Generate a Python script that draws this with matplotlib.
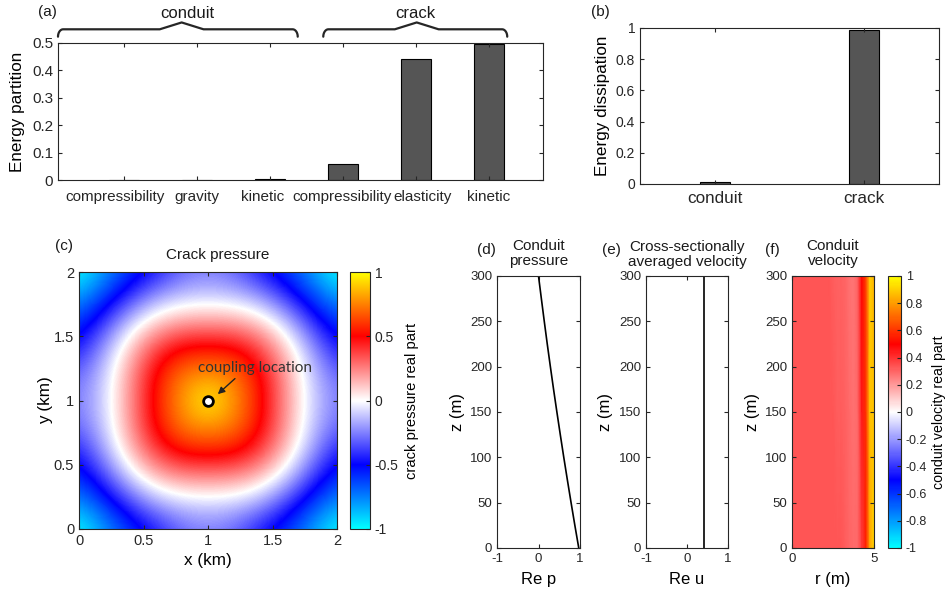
import numpy as np
import matplotlib
matplotlib.use("Agg")
import matplotlib.pyplot as plt
from matplotlib.colors import LinearSegmentedColormap
from matplotlib import ticker
from matplotlib.transforms import ScaledTranslation

plt.rcParams['font.family'] = ['Liberation Sans', 'DejaVu Sans']
plt.rcParams['axes.unicode_minus'] = False
plt.rcParams['axes.edgecolor'] = '#262626'
plt.rcParams['axes.linewidth'] = 0.8
plt.rcParams['xtick.color'] = '#262626'
plt.rcParams['ytick.color'] = '#262626'
plt.rcParams['text.color'] = '#1a1a1a'

# (a) energy partition
part_labels = ['compressibility', 'gravity', 'kinetic', 'compressibility', 'elasticity', 'kinetic']
part_values = [0.0005, 0.0002, 0.004, 0.06, 0.44, 0.497]

# (b) energy dissipation
diss_labels = ['conduit', 'crack']
diss_values = [0.01, 0.99]

# (c) crack pressure, lower-left quadrant read on a 0.2 km grid (rows: y = 0..1, cols: x = 0..1)
crack_q = np.array([
    [-1.00, -0.80, -0.60, -0.45, -0.30, -0.25],
    [-0.80, -0.60, -0.37, -0.18, -0.10, -0.08],
    [-0.60, -0.37, -0.08, 0.12, 0.21, 0.22],
    [-0.45, -0.18, 0.12, 0.38, 0.53, 0.55],
    [-0.30, -0.10, 0.21, 0.53, 0.74, 0.80],
    [-0.25, -0.08, 0.22, 0.55, 0.80, 1.00],
])
couple_x, couple_y = 1.0, 1.0

# (d) conduit pressure
z_p = [0, 25, 50, 75, 100, 125, 150, 175, 200, 225, 250, 275, 300]
re_p = [0.97, 0.876, 0.785, 0.696, 0.609, 0.525, 0.443, 0.363, 0.286, 0.211, 0.139, 0.069, 0.0]

# (e) cross-sectionally averaged velocity
z_u = [0, 300]
re_u = [0.41, 0.41]

# (f) conduit velocity, radial profiles at three depths
r_nodes = [0, 0.25, 0.5, 0.75, 1, 1.25, 1.5, 1.75, 2, 2.25, 2.5, 2.75, 3,
           3.25, 3.5, 3.75, 4, 4.25, 4.5, 4.75, 5]
z_nodes = [0, 150, 300]
vel_bot = [0.33, 0.33, 0.33, 0.33, 0.33, 0.33, 0.33, 0.33, 0.33, 0.33, 0.33, 0.33, 0.33,
           0.32, 0.30, 0.29, 0.29, 0.38, 0.55, 0.82, 0.92]
vel_mid = [0.33, 0.33, 0.33, 0.33, 0.33, 0.33, 0.33, 0.33, 0.33, 0.33, 0.33, 0.32, 0.32,
           0.31, 0.29, 0.28, 0.29, 0.45, 0.58, 0.88, 0.88]
vel_top = [0.33, 0.33, 0.33, 0.33, 0.33, 0.33, 0.33, 0.33, 0.33, 0.33, 0.32, 0.31, 0.31,
           0.30, 0.28, 0.27, 0.31, 0.50, 0.62, 0.90, 0.85]

cmap = LinearSegmentedColormap.from_list(
    'cbwry', [(0, 1, 1), (0, 0, 1), (1, 1, 1), (1, 0, 0), (1, 1, 0)])

W, H = 949, 594
fig = plt.figure(figsize=(W / 100, H / 100), dpi=100)


def box(l, t, r, b):
    return [l / W, 1 - b / H, (r - l) / W, (b - t) / H]


def style(ax, size):
    ax.tick_params(direction='in', top=True, right=True, length=3, width=0.8, labelsize=size)


def shift_label(lbl, dx_px):
    lbl.set_transform(lbl.get_transform() + ScaledTranslation(dx_px / 100, 0, fig.dpi_scale_trans))


# ---- (a)
ax = fig.add_axes(box(58, 43, 543, 180))
xa = np.arange(1, len(part_values) + 1)
ax.bar(xa, part_values, width=0.4, color='#555555', edgecolor='black', linewidth=0.8)
ax.set_xlim(0.096, 6.74)
ax.set_ylim(0, 0.5)
ax.set_yticks([0, 0.1, 0.2, 0.3, 0.4, 0.5])
ax.yaxis.set_major_formatter(ticker.FormatStrFormatter('%g'))
ax.set_xticks(xa)
ax.set_xticklabels(part_labels)
style(ax, 11)
ax.tick_params(axis='x', pad=7)
xl = ax.get_xticklabels()
shift_label(xl[0], -9)
shift_label(xl[2], -7)
shift_label(xl[3], -1)
shift_label(xl[4], 7)
ax.set_ylabel('Energy partition', fontsize=12.3)
ax.yaxis.set_label_coords(-0.068, 0.5)

trans = ax.get_xaxis_transform()


def brace(x0, x1, xm):
    c, w = 0.07, 0.3
    y_end, y_base, y_tip = 1.046, 1.1, 1.15
    t = np.linspace(0, np.pi / 2, 12)
    lx = x0 + c - c * np.cos(t)
    ly = y_end + (y_base - y_end) * np.sin(t)
    rx = x1 - c + c * np.cos(t[::-1])
    ry = y_end + (y_base - y_end) * np.sin(t[::-1])
    xs = np.concatenate([lx, [xm - w, xm, xm + w], rx])
    ys = np.concatenate([ly, [y_base, y_tip, y_base], ry])
    ax.plot(xs, ys, color='#262626', lw=1.6, transform=trans, clip_on=False,
            solid_capstyle='round', solid_joinstyle='round')


brace(0.096, 3.38, 1.79)
brace(3.73, 6.25, 5.01)
fig.text(187 / W, 1 - 13 / H, 'conduit', fontsize=12, ha='center', va='center')
fig.text(415 / W, 1 - 13 / H, 'crack', fontsize=12, ha='center', va='center')
fig.text(47 / W, 1 - 12 / H, '(a)', fontsize=11, ha='center', va='center')

# ---- (b)
ax = fig.add_axes(box(640, 28, 939, 184))
xb = np.arange(1, len(diss_values) + 1)
ax.bar(xb, diss_values, width=0.2, color='#555555', edgecolor='black', linewidth=0.8)
ax.set_xlim(0.5, 2.5)
ax.set_ylim(0, 1)
ax.set_yticks([0, 0.2, 0.4, 0.6, 0.8, 1])
ax.yaxis.set_major_formatter(ticker.FormatStrFormatter('%g'))
ax.set_xticks(xb)
ax.set_xticklabels(diss_labels)
style(ax, 10)
ax.tick_params(axis='x', labelsize=12.3, pad=5)
ax.set_ylabel('Energy dissipation', fontsize=12.3)
ax.yaxis.set_label_coords(-0.100, 0.5)
fig.text(600 / W, 1 - 12 / H, '(b)', fontsize=11, ha='center', va='center')

# ---- (c)
half = np.hstack([crack_q, crack_q[:, -2::-1]])
crack_full = np.vstack([half, half[-2::-1, :]])
ax = fig.add_axes(box(79, 272, 337, 529))
im = ax.imshow(crack_full, origin='lower', extent=(-0.1, 2.1, -0.1, 2.1), cmap=cmap,
               vmin=-1, vmax=1, interpolation='bicubic', aspect='auto')
ax.set_xlim(0, 2)
ax.set_ylim(0, 2)
ticks_c = [0, 0.5, 1, 1.5, 2]
ax.set_xticks(ticks_c)
ax.set_yticks(ticks_c)
ax.xaxis.set_major_formatter(ticker.FormatStrFormatter('%g'))
ax.yaxis.set_major_formatter(ticker.FormatStrFormatter('%g'))
style(ax, 10.5)
ax.set_xlabel('x (km)', fontsize=12.3)
ax.set_ylabel('y (km)', fontsize=12.3)
ax.xaxis.set_label_coords(0.5, -0.093)
ax.yaxis.set_label_coords(-0.10, 0.5)
ax.set_title('Crack pressure', fontsize=11, pad=9, x=0.539)
ax.plot([couple_x], [couple_y], 'o', ms=7, mfc='white', mec='black', mew=2)
ax.text(0.92, 1.25, 'coupling location', family=['Lato', 'DejaVu Sans'], fontsize=11,
        color='#333333', va='center', ha='left')
ax.annotate('', xy=(1.06, 1.035), xytext=(1.225, 1.185),
            arrowprops=dict(arrowstyle='-|>', color='#222222', lw=1, mutation_scale=10))
cax = fig.add_axes(box(350, 272, 370, 529))
cb = fig.colorbar(im, cax=cax, ticks=[-1, -0.5, 0, 0.5, 1], format='%g')
cb.outline.set_linewidth(0.8)
cax.tick_params(direction='in', length=3, labelsize=10)
cb.set_label('crack pressure real part', fontsize=10.6)
cax.yaxis.set_label_coords(2.75, 0.5)
fig.text(64 / W, 1 - 246 / H, '(c)', fontsize=11, ha='center', va='center')

# ---- (d)
ax = fig.add_axes(box(497, 276, 580, 548))
ax.plot(re_p, z_p, color='black', lw=1.2)
ax.set_xlim(-1, 1)
ax.set_ylim(0, 300)
ax.set_xticks([-1, 0, 1])
ax.set_yticks(range(0, 301, 50))
style(ax, 9.5)
ax.set_xlabel('Re p', fontsize=12)
ax.set_ylabel('z (m)', fontsize=12)
ax.xaxis.set_label_coords(0.5, -0.088)
ax.yaxis.set_label_coords(-0.386, 0.5)
ax.set_title('Conduit\npressure', fontsize=11, pad=8, linespacing=1.1)
fig.text(486 / W, 1 - 250 / H, '(d)', fontsize=11, ha='center', va='center')

# ---- (e)
ax = fig.add_axes(box(646, 276, 728, 548))
ax.plot(re_u, z_u, color='black', lw=1.2)
ax.set_xlim(-1, 1)
ax.set_ylim(0, 300)
ax.set_xticks([-1, 0, 1])
ax.set_yticks(range(0, 301, 50))
style(ax, 9.5)
ax.set_xlabel('Re u', fontsize=12)
ax.set_ylabel('z (m)', fontsize=12)
ax.xaxis.set_label_coords(0.5, -0.088)
ax.yaxis.set_label_coords(-0.40, 0.5)
ax.set_title('Cross-sectionally\naveraged velocity', fontsize=11, pad=7, linespacing=1.1)
fig.text(611 / W, 1 - 250 / H, '(e)', fontsize=11, ha='center', va='center')

# ---- (f)
ax = fig.add_axes(box(792, 276, 874, 548))
vel = np.array([vel_bot, vel_mid, vel_top])
pm = ax.pcolormesh(r_nodes, z_nodes, vel, shading='gouraud', cmap=cmap, vmin=-1, vmax=1)
ax.set_xlim(0, 5)
ax.set_ylim(0, 300)
ax.set_xticks([0, 5])
ax.set_yticks(range(0, 301, 50))
style(ax, 9.5)
ax.set_xlabel('r (m)', fontsize=12)
ax.set_ylabel('z (m)', fontsize=12)
ax.xaxis.set_label_coords(0.5, -0.088)
ax.yaxis.set_label_coords(-0.39, 0.5)
ax.set_title('Conduit\nvelocity', fontsize=11, pad=8, linespacing=1.1)
fig.text(772 / W, 1 - 250 / H, '(f)', fontsize=11, ha='center', va='center')
cax = fig.add_axes(box(888, 276, 901, 548))
cb = fig.colorbar(pm, cax=cax, format='%g',
                  ticks=[-1, -0.8, -0.6, -0.4, -0.2, 0, 0.2, 0.4, 0.6, 0.8, 1])
cb.outline.set_linewidth(0.8)
cax.tick_params(direction='in', length=3, labelsize=9)
cb.set_label('conduit velocity real part', fontsize=10.2)
cax.yaxis.set_label_coords(3.35, 0.5)

fig.savefig('out.png', dpi=100)
